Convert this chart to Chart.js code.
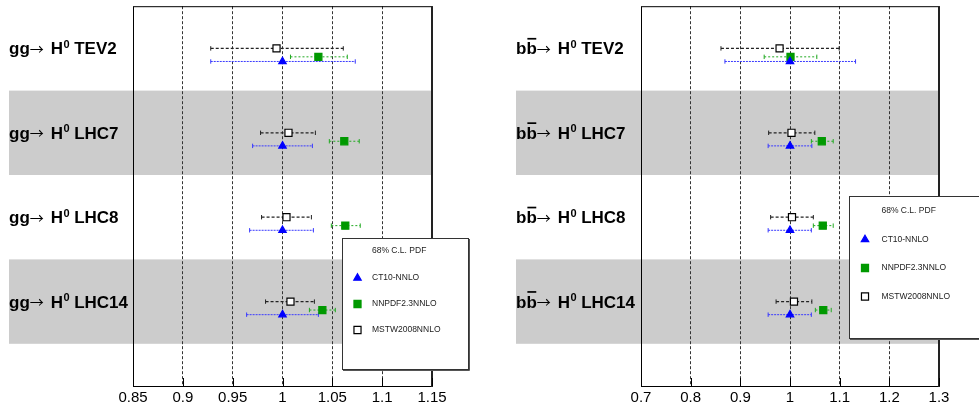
<!DOCTYPE html>
<html>
<head>
<meta charset="utf-8">
<script src="https://cdn.jsdelivr.net/npm/chart.js@4.4.1/dist/chart.umd.min.js"></script>
<style>
  html, body { margin: 0; padding: 0; background: #fff; }
  #wrap { position: relative; width: 979px; height: 408px; overflow: hidden; }
  #ggChart { position: absolute; left: 0; top: 0; }
  #bbChart { position: absolute; left: 500px; top: 0; }
</style>
</head>
<body>
<div id="wrap">
  <canvas id="ggChart" width="500" height="408"></canvas>
  <canvas id="bbChart" width="479" height="408"></canvas>
</div>
<script>
// rows (top to bottom) and their position on the y scale
const rowNames = ["TEV2", "LHC7", "LHC8", "LHC14"];
const rowPos = [4, 3, 2, 1];

const seriesNames = ["CT10-NNLO", "NNPDF2.3NNLO", "MSTW2008NNLO"];
const legendTitle = "68% C.L. PDF";

// gg -> H0
const ggCT10 = [1, 1, 1, 1];
const ggCT10Lo = [0.928, 0.970, 0.967, 0.964];
const ggCT10Hi = [1.073, 1.030, 1.031, 1.036];
const ggNNPDF = [1.036, 1.062, 1.063, 1.040];
const ggNNPDFLo = [1.008, 1.047, 1.049, 1.027];
const ggNNPDFHi = [1.065, 1.077, 1.078, 1.053];
const ggMSTW = [0.994, 1.006, 1.004, 1.008];
const ggMSTWLo = [0.928, 0.978, 0.979, 0.983];
const ggMSTWHi = [1.061, 1.033, 1.029, 1.032];
const ggTicks = [0.85, 0.9, 0.95, 1, 1.05, 1.1, 1.15];
const ggTickLabels = ["0.85", "0.9", "0.95", "1", "1.05", "1.1", "1.15"];

// bb -> H0
const bbCT10 = [1, 1, 1, 1];
const bbCT10Lo = [0.869, 0.956, 0.956, 0.956];
const bbCT10Hi = [1.132, 1.044, 1.043, 1.043];
const bbNNPDF = [1.001, 1.064, 1.066, 1.067];
const bbNNPDFLo = [0.948, 1.043, 1.047, 1.051];
const bbNNPDFHi = [1.054, 1.087, 1.087, 1.083];
const bbMSTW = [0.979, 1.003, 1.004, 1.008];
const bbMSTWLo = [0.861, 0.957, 0.961, 0.972];
const bbMSTWHi = [1.099, 1.050, 1.047, 1.044];
const bbTicks = [0.7, 0.8, 0.9, 1, 1.1, 1.2, 1.3];
const bbTickLabels = ["0.7", "0.8", "0.9", "1", "1.1", "1.2", "1.3"];

const FONT = '"Liberation Sans", Arial, Helvetica, sans-serif';

// marker / error bar look of each series (same order as seriesNames)
const seriesStyle = [
  { offset: -0.155, pointStyle: "triangle", radius: 4.3, fill: "#0000ff", border: "#0000ff",
    line: "#3a3aff", dash: [2, 1], width: 1 },
  { offset: -0.1, pointStyle: "rect", radius: 5, fill: "#009900", border: "#009900",
    line: "#22aa22", dash: [2, 2], width: 1 },
  { offset: 0, pointStyle: "rect", radius: 5, fill: "#ffffff", border: "#000000",
    line: "#222222", dash: [3, 2], width: 1.3 },
];

function buildDatasets(values, los, his) {
  const marks = [];
  const bars = [];
  values.forEach((vals, s) => {
    const st = seriesStyle[s];
    marks.push({
      label: seriesNames[s],
      data: vals.map((v, i) => ({ x: v, y: rowPos[i] + st.offset })),
      pointStyle: st.pointStyle,
      pointRadius: st.radius,
      backgroundColor: st.fill,
      borderColor: st.border,
      borderWidth: 1.2,
      order: 0,
    });
    const pts = [];
    los[s].forEach((lo, i) => {
      const y = rowPos[i] + st.offset;
      pts.push({ x: lo, y }, { x: his[s][i], y }, { x: null, y: null });
    });
    bars.push({
      label: seriesNames[s] + " err",
      data: pts,
      showLine: true,
      spanGaps: false,
      borderColor: st.line,
      borderWidth: st.width,
      borderDash: st.dash,
      pointStyle: "line",
      rotation: 90,
      pointRadius: 2.2,
      pointBorderColor: st.line,
      pointBorderWidth: 1,
      order: 1,
    });
  });
  return marks.concat(bars);
}

function drawRowLabel(ctx, x, y, proc, overline, energy) {
  const bold = "bold 17px " + FONT;
  const base = y + 6;
  let cx = x;
  ctx.fillStyle = "#000";
  ctx.textBaseline = "alphabetic";
  ctx.textAlign = "left";
  ctx.font = bold;
  if (overline) {
    ctx.fillText(proc[0], cx, base);
    cx += ctx.measureText(proc[0]).width;
    const w = ctx.measureText(proc[1]).width;
    ctx.fillText(proc[1], cx, base);
    ctx.fillRect(cx + 1, base - 16.5, w - 1.5, 1.7);
    cx += w;
  } else {
    ctx.fillText(proc, cx, base);
    cx += ctx.measureText(proc).width;
  }
  ctx.font = '14px "Noto Sans CJK SC", "DejaVu Sans", sans-serif';
  ctx.fillText("\u2192", cx, base - 0.5);
  cx += ctx.measureText("\u2192").width + 7;
  ctx.font = bold;
  ctx.fillText("H", cx, base);
  cx += ctx.measureText("H").width;
  ctx.font = "bold 11px " + FONT;
  ctx.fillText("0", cx + 0.5, base - 6.5);
  cx += ctx.measureText("0").width + 5;
  ctx.font = bold;
  ctx.fillText(energy, cx, base);
}

const panelPlugin = {
  id: "panel",
  beforeDraw(chart, args, opts) {
    const { ctx, chartArea, scales } = chart;
    const y = scales.y;
    ctx.save();
    ctx.fillStyle = "#cccccc";
    rowPos.forEach((r, i) => {
      if (i % 2 === 1) {
        const t = y.getPixelForValue(r + 0.5);
        const b = y.getPixelForValue(r - 0.5);
        ctx.fillRect(opts.bandLeft, t, chartArea.right - opts.bandLeft, b - t);
      }
    });
    rowPos.forEach((r, i) => {
      drawRowLabel(ctx, opts.bandLeft, y.getPixelForValue(r), opts.process, opts.overline, rowNames[i]);
    });
    ctx.restore();
  },
  afterDraw(chart, args, opts) {
    const { ctx, chartArea, scales } = chart;
    const x = scales.x;
    const { left, right, top, bottom } = chartArea;
    ctx.save();
    // frame
    ctx.strokeStyle = "#000";
    ctx.lineWidth = 1;
    ctx.beginPath();
    ctx.moveTo(left + 0.5, bottom + 0.5);
    ctx.lineTo(left + 0.5, top + 0.5);
    ctx.lineTo(right, top + 0.5);
    ctx.moveTo(left, bottom + 0.5);
    ctx.lineTo(right, bottom + 0.5);
    ctx.stroke();
    ctx.lineWidth = 2;
    ctx.strokeStyle = "#222";
    ctx.beginPath();
    ctx.moveTo(right, top);
    ctx.lineTo(right, bottom + 1);
    ctx.stroke();
    // inner tick marks
    ctx.lineWidth = 1;
    ctx.strokeStyle = "#000";
    ctx.beginPath();
    x.ticks.forEach(t => {
      const px = Math.round(x.getPixelForValue(t.value)) + 0.5;
      ctx.moveTo(px, bottom);
      ctx.lineTo(px, bottom - 8);
    });
    ctx.stroke();

    // legend box
    const L = opts.legend;
    ctx.fillStyle = "#fff";
    ctx.fillRect(L.x, L.y, L.w, L.h);
    ctx.strokeStyle = "#333";
    ctx.lineWidth = 1;
    ctx.strokeRect(L.x + 0.5, L.y + 0.5, L.w, L.h);
    ctx.strokeStyle = "#555";
    ctx.beginPath();
    ctx.moveTo(L.x + 1, L.y + L.h + 1.5);
    ctx.lineTo(L.x + L.w + 1.5, L.y + L.h + 1.5);
    ctx.lineTo(L.x + L.w + 1.5, L.y + 1);
    ctx.stroke();
    ctx.fillStyle = "#222";
    ctx.font = "8.5px " + FONT;
    ctx.textBaseline = "middle";
    ctx.textAlign = "left";
    ctx.fillText(legendTitle, L.x + L.textDx, L.y + L.titleDy);
    seriesNames.forEach((name, s) => {
      const st = seriesStyle[s];
      const yy = L.y + L.firstDy + s * L.gap;
      ctx.fillStyle = st.fill;
      ctx.strokeStyle = st.border;
      ctx.lineWidth = 1.2;
      Chart.helpers.drawPoint(ctx, {
        pointStyle: st.pointStyle, radius: st.radius, rotation: 0, borderWidth: 1.2,
      }, L.x + L.markDx, yy);
      ctx.fillStyle = "#222";
      ctx.fillText(name, L.x + L.textDx, yy);
    });
    ctx.restore();
  },
};

function makeChart(id, cfg) {
  return new Chart(document.getElementById(id), {
    type: "scatter",
    data: { datasets: buildDatasets(cfg.values, cfg.los, cfg.his) },
    plugins: [panelPlugin],
    options: {
      responsive: false,
      animation: false,
      events: [],
      layout: { padding: cfg.padding },
      scales: {
        x: {
          type: "linear",
          min: cfg.ticks[0],
          max: cfg.ticks[cfg.ticks.length - 1],
          afterBuildTicks: s => { s.ticks = cfg.ticks.map(v => ({ value: v })); },
          afterFit: s => { s.height = 22; },
          grid: { color: "#333", lineWidth: 1, drawTicks: false },
          border: { display: false, dash: [3, 2] },
          ticks: {
            autoSkip: false,
            maxRotation: 0,
            padding: 3,
            color: "#000",
            font: { family: FONT, size: 15 },
            callback: (v, i) => cfg.tickLabels[i],
          },
        },
        y: { type: "linear", display: false, min: 0, max: 4.5 },
      },
      plugins: {
        legend: { display: false },
        tooltip: { enabled: false },
        panel: {
          bandLeft: cfg.bandLeft,
          process: cfg.process,
          overline: cfg.overline,
          legend: cfg.legend,
        },
      },
    },
  });
}

makeChart("ggChart", {
  values: [ggCT10, ggNNPDF, ggMSTW],
  los: [ggCT10Lo, ggNNPDFLo, ggMSTWLo],
  his: [ggCT10Hi, ggNNPDFHi, ggMSTWHi],
  ticks: ggTicks,
  tickLabels: ggTickLabels,
  padding: { left: 133, right: 68, top: 5, bottom: 0 },
  bandLeft: 9,
  process: "gg",
  overline: false,
  legend: { x: 342, y: 238, w: 126, h: 131, textDx: 30, titleDy: 13, markDx: 15.5, firstDy: 40, gap: 26 },
});

makeChart("bbChart", {
  values: [bbCT10, bbNNPDF, bbMSTW],
  los: [bbCT10Lo, bbNNPDFLo, bbMSTWLo],
  his: [bbCT10Hi, bbNNPDFHi, bbMSTWHi],
  ticks: bbTicks,
  tickLabels: bbTickLabels,
  padding: { left: 141, right: 40, top: 5, bottom: 0 },
  bandLeft: 16,
  process: "bb",
  overline: true,
  legend: { x: 349, y: 196, w: 150, h: 142, textDx: 32.5, titleDy: 14.5, markDx: 16, firstDy: 43.5, gap: 28.5 },
});
</script>
</body>
</html>
